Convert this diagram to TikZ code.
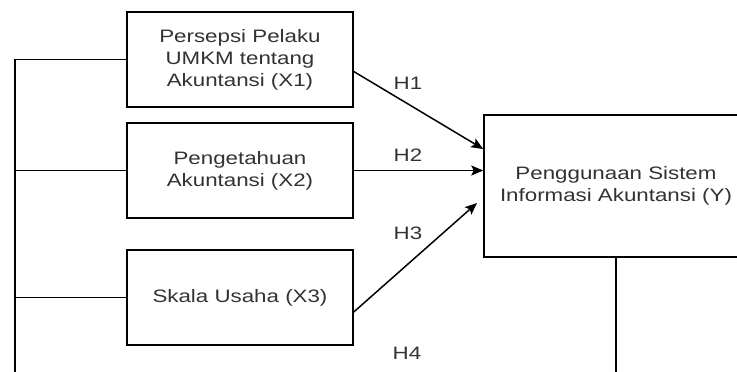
\documentclass[tikz,border=0pt]{standalone}
\usepackage{fontspec}
\setmainfont{Liberation Sans}[FakeStretch=1.24]
\usetikzlibrary{arrows.meta}
\definecolor{txt}{RGB}{50,50,50}
\tikzset{
  box/.style={draw=black, line width=1.5pt, rectangle, align=center, inner sep=0pt,
    text=txt, font=\fontsize{18}{22}\selectfont},
  conn/.style={line width=1.5pt, draw=black},
  arr/.style={conn, -{Stealth[length=12pt,width=10pt,inset=2.5pt]}},
  lbl/.style={text=txt, font=\fontsize{18}{22}\selectfont, inner sep=0pt}
}
\begin{document}
\begin{tikzpicture}[x=1pt,y=-1pt]
\path[use as bounding box, clip] (0,0) rectangle (737,372);
\node[box, minimum width=226pt, minimum height=95pt] (X1) at (240,59.5) {Persepsi Pelaku\\UMKM tentang\\Akuntansi (X1)};
\node[box, minimum width=226pt, minimum height=95pt] (X2) at (240,170.5) {Pengetahuan\\Akuntansi (X2)};
\node[box, minimum width=226pt, minimum height=95pt] (X3) at (240,297.5) {Skala Usaha (X3)};
\node[box, minimum width=264pt, minimum height=142pt] (Y) at (616,186) {Penggunaan Sistem\\Informasi Akuntansi (Y)};
\coordinate (h3end) at (477,203);
\coordinate (bl) at (15,385);
\coordinate (br) at (616,385);
\draw[arr] ([yshift=-12pt]X1.east) -- ([yshift=37pt]Y.west);
\draw[arr] (X2.east) -- (X2.east -| Y.west);
\draw[arr] ([yshift=-14.5pt]X3.east) -- (h3end);
\draw[conn] (Y.south) -- (br) -- (bl) |- (X1.west);
\draw[conn] (X2.west) -- (X2.west -| bl);
\draw[conn] (X3.west) -- (X3.west -| bl);
\node[lbl] (h1) at (408,83) {H1};
\node[lbl] (h2) at (408,155) {H2};
\node[lbl] (h3) at (408,233) {H3};
\node[lbl] (h4) at (407,353) {H4};
\end{tikzpicture}
\end{document}
